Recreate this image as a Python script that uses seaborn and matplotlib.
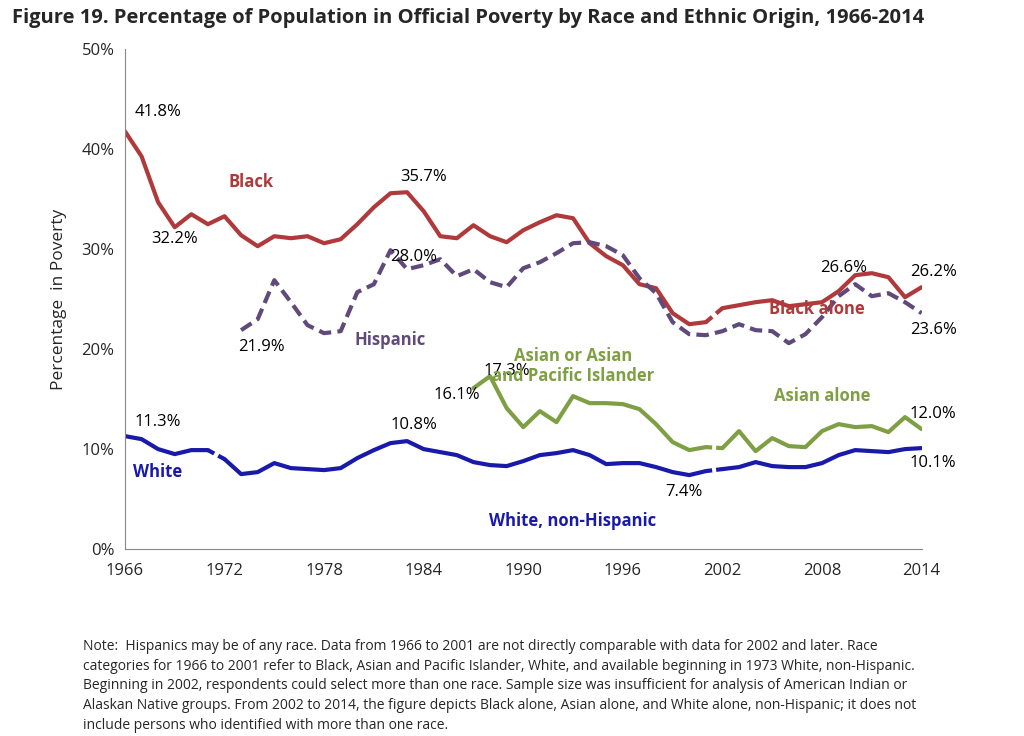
import numpy as np
import pandas as pd
import matplotlib
matplotlib.use("Agg")
import matplotlib.pyplot as plt
import seaborn as sns

black_years = list(range(1966, 2002))
black = [41.8, 39.3, 34.7, 32.2, 33.5, 32.5, 33.3, 31.4, 30.3, 31.3, 31.1, 31.3, 30.6, 31.0,
         32.5, 34.2, 35.6, 35.7, 33.8, 31.3, 31.1, 32.4, 31.3, 30.7, 31.9, 32.7, 33.4, 33.1,
         30.6, 29.3, 28.4, 26.5, 26.1, 23.6, 22.5, 22.7]
black_alone_years = list(range(2002, 2015))
black_alone = [24.1, 24.4, 24.7, 24.9, 24.3, 24.5, 24.7, 25.8, 27.4, 27.6, 27.2, 25.2, 26.2]

hisp_years = list(range(1973, 2015))
hispanic = [21.9, 23.0, 26.9, 24.7, 22.4, 21.6, 21.8, 25.7, 26.5, 29.9, 28.0, 28.4, 29.0,
            27.3, 28.0, 26.7, 26.2, 28.1, 28.7, 29.6, 30.6, 30.7, 30.3, 29.4, 27.1, 25.6,
            22.7, 21.5, 21.4, 21.8, 22.5, 21.9, 21.8, 20.6, 21.5, 23.2, 25.3, 26.5, 25.3,
            25.6, 24.7, 23.6]

api_years = list(range(1987, 2002))
api = [16.1, 17.3, 14.1, 12.2, 13.8, 12.7, 15.3, 14.6, 14.6, 14.5, 14.0, 12.5, 10.7, 9.9, 10.2]
asian_alone_years = list(range(2002, 2015))
asian_alone = [10.1, 11.8, 9.8, 11.1, 10.3, 10.2, 11.8, 12.5, 12.2, 12.3, 11.7, 13.2, 12.0]

white_years = list(range(1966, 1972))
white = [11.3, 11.0, 10.0, 9.5, 9.9, 9.9]
wnh_years = list(range(1972, 2002))
wnh = [9.0, 7.5, 7.7, 8.6, 8.1, 8.0, 7.9, 8.1, 9.1, 9.9, 10.6, 10.8, 10.0, 9.7, 9.4, 8.7,
       8.4, 8.3, 8.8, 9.4, 9.6, 9.9, 9.4, 8.5, 8.6, 8.6, 8.2, 7.7, 7.4, 7.8]
wnh_alone_years = list(range(2002, 2015))
wnh_alone = [8.0, 8.2, 8.7, 8.3, 8.2, 8.2, 8.6, 9.4, 9.9, 9.8, 9.7, 10.0, 10.1]

RED, PURPLE, GREEN, BLUE = "#B0393C", "#604A7B", "#7F9F45", "#1A1AAA"

sns.set_style("white")
plt.rcParams["font.family"] = ["Open Sans", "DejaVu Sans"]

fig = plt.figure(figsize=(10.24, 7.36), dpi=100)
ax = fig.add_axes([0.122, 0.254, 0.778, 0.679])


def segmented(parts, col):
    # draw each series part, then bridge between parts with a small gap in the middle
    for yrs, vals in parts:
        sns.lineplot(x=yrs, y=vals, color=col, linewidth=3, ax=ax)
    for (y1, v1), (y2, v2) in zip(parts[:-1], parts[1:]):
        x0, x1, a0, a1 = y1[-1], y2[0], v1[-1], v2[0]
        for f0, f1 in [(0, 0.38), (0.62, 1)]:
            ax.plot([x0 + (x1 - x0) * f0, x0 + (x1 - x0) * f1],
                    [a0 + (a1 - a0) * f0, a0 + (a1 - a0) * f1],
                    color=col, linewidth=3, solid_capstyle="butt")


segmented([(black_years, black), (black_alone_years, black_alone)], RED)
segmented([(api_years, api), (asian_alone_years, asian_alone)], GREEN)
segmented([(white_years, white), (wnh_years, wnh), (wnh_alone_years, wnh_alone)], BLUE)
sns.lineplot(x=hisp_years, y=hispanic, color=PURPLE, linewidth=3, ax=ax, linestyle=(0, (3, 1.5)))

ax.set_xlim(1966, 2014)
ax.set_ylim(0, 50)
ax.set_xticks(range(1966, 2015, 6))
ax.set_yticks(range(0, 51, 10))
ax.set_yticklabels([f"{v}%" for v in range(0, 51, 10)])
ax.tick_params(labelsize=12, length=4, color="#888888", direction="out")
ax.tick_params(axis="x", pad=6)
for s in ["top", "right"]:
    ax.spines[s].set_visible(False)
for s in ["left", "bottom"]:
    ax.spines[s].set_color("#888888")
ax.set_ylabel("Percentage  in Poverty", fontsize=12.5, labelpad=10)

fs = 12
def t(x, y, s, c="black", bold=False, ha="center"):
    ax.text(x, y, s, color=c, fontsize=fs, ha=ha, va="center", fontweight="bold" if bold else "normal")

t(1968.0, 43.7, "41.8%")
t(1969.0, 31.0, "32.2%")
t(1984.0, 37.2, "35.7%")
t(1983.4, 29.2, "28.0%")
t(1974.2, 20.2, "21.9%")
t(1986.0, 15.4, "16.1%")
t(1989.0, 17.8, "17.3%")
t(1968.0, 12.7, "11.3%")
t(1983.4, 12.4, "10.8%")
t(1999.7, 5.7, "7.4%")
t(2009.3, 28.1, "26.6%")
t(2014.7, 27.7, "26.2%")
t(2014.7, 21.9, "23.6%")
t(2014.7, 13.5, "12.0%")
t(2014.7, 8.6, "10.1%")
t(1973.6, 36.7, "Black", RED, True)
t(2007.7, 24.0, "Black alone", RED, True)
t(1982.0, 20.9, "Hispanic", PURPLE, True)
t(1993.0, 19.3, "Asian or Asian", GREEN, True)
t(1993.0, 17.3, "and Pacific Islander", GREEN, True)
t(2008.0, 15.3, "Asian alone", GREEN, True)
t(1968.0, 7.7, "White", BLUE, True)
t(1993.0, 2.8, "White, non-Hispanic", BLUE, True)

fig.text(0.012, 0.975, "Figure 19. Percentage of Population in Official Poverty by Race and Ethnic Origin, 1966-2014",
         fontsize=14.5, fontweight="bold", va="center")
note = ("Note:  Hispanics may be of any race. Data from 1966 to 2001 are not directly comparable with data for 2002 and later. Race\n"
        "categories for 1966 to 2001 refer to Black, Asian and Pacific Islander, White, and available beginning in 1973 White, non-Hispanic.\n"
        "Beginning in 2002, respondents could select more than one race. Sample size was insufficient for analysis of American Indian or\n"
        "Alaskan Native groups. From 2002 to 2014, the figure depicts Black alone, Asian alone, and White alone, non-Hispanic; it does not\n"
        "include persons who identified with more than one race.")
fig.text(0.081, 0.068, note, fontsize=10, va="center", linespacing=1.45)

fig.savefig("out.png", dpi=100)
